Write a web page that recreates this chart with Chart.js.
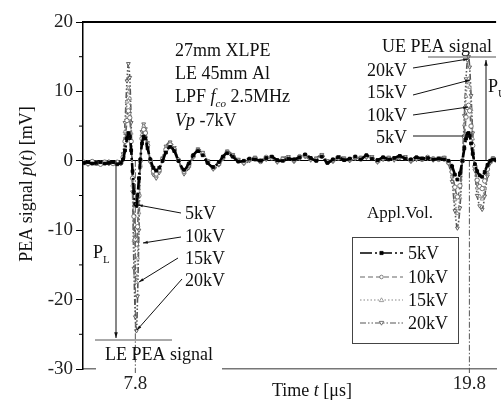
<!DOCTYPE html>
<html>
<head>
<meta charset="utf-8">
<script src="https://cdn.jsdelivr.net/npm/chart.js@4/dist/chart.umd.min.js"></script>
<style>
  html, body { margin: 0; padding: 0; background: #fff; }
  canvas { display: block; }
</style>
</head>
<body>
<canvas id="pea" width="501" height="405"></canvas>
<script>
// ==============================
// DATA
// ==============================
const times = [
  5.95, 6.1, 6.25, 6.4, 6.55, 6.7, 6.85, 7.0, 7.15, 7.28,
  7.36, 7.43, 7.5, 7.55, 7.6, 7.65, 7.7, 7.75, 7.8, 7.84,
  7.88, 7.93, 7.98, 8.04, 8.1, 8.16, 8.24, 8.34, 8.45, 8.55,
  8.66, 8.78, 8.9, 9.05, 9.2, 9.35, 9.55, 9.72, 9.88, 10.05,
  10.22, 10.4, 10.6, 10.8, 10.95, 11.1, 11.3, 11.5, 11.7, 11.9,
  12.1, 12.3, 12.5, 12.7, 12.9, 13.1, 13.3, 13.5, 13.7, 13.9,
  14.1, 14.3, 14.5, 14.7, 14.9, 15.1, 15.3, 15.5, 15.7, 15.9,
  16.1, 16.3, 16.5, 16.7, 16.9, 17.1, 17.3, 17.5, 17.7, 17.9,
  18.1, 18.3, 18.5, 18.7, 18.9, 19.05, 19.18, 19.28, 19.37, 19.46,
  19.55, 19.62, 19.68, 19.73, 19.77, 19.81, 19.86, 19.92, 20.0, 20.08,
  20.17, 20.26, 20.35, 20.45, 20.55, 20.65, 20.76
];

const kv5 = [
  -0.3, -0.2, -0.4, -0.3, -0.2, -0.4, -0.3, -0.2, -0.5, -0.3,
  0.2, 1.5, 3.2, 4.0, 3.5, 1.5, -1.5, -4.5, -6.2, -6.5,
  -5.0, -2.5, 0.2, 2.5, 3.5, 3.2, 1.8, 0.2, -1.0, -1.4,
  -1.0, 0.0, 1.2, 2.0, 1.4, 0.0, -1.3, -0.4, 0.8, 1.4,
  0.8, -0.3, -0.9, -0.2, 0.6, 1.1, 0.6, -0.1, 0.0, 0.3,
  0.2, 0.0, 0.4, 0.6, 0.1, 0.0, 0.3, 0.2, 0.5, 0.9,
  0.4, 0.0, 0.6, -0.3, 0.2, 0.5, 0.1, 0.3, 0.6, 0.2,
  0.8, 0.3, 0.1, 0.5, 0.2, 0.4, 0.7, 0.3, 0.2, 0.5,
  0.3, 0.4, 0.2, 0.3, 0.2, 0.0, -0.8, -2.0, -2.7, -1.8,
  0.0, 1.8, 3.2, 3.9, 4.0, 3.6, 2.5, 1.0, -0.5, -1.5,
  -2.1, -2.3, -1.6, -0.6, 0.0, 0.2, 0.1
];

const kv10 = [
  -0.2, -0.4, -0.1, -0.3, -0.5, -0.2, -0.3, -0.4, -0.2, -0.3,
  0.5, 2.8, 5.8, 7.2, 6.2, 2.8, -2.5, -8.0, -11.3, -12.0,
  -9.5, -5.0, 0.0, 3.2, 4.5, 4.0, 2.2, 0.0, -1.5, -1.9,
  -1.3, 0.2, 1.6, 2.3, 1.6, 0.1, -1.5, -0.6, 0.7, 1.5,
  1.0, -0.2, -1.0, -0.4, 0.5, 1.2, 0.7, 0.0, -0.2, 0.2,
  0.3, -0.1, 0.5, 0.4, 0.0, 0.2, 0.4, 0.1, 0.6, 0.8,
  0.3, 0.1, 0.7, -0.2, 0.1, 0.4, 0.2, 0.2, 0.5, 0.3,
  0.7, 0.4, 0.0, 0.4, 0.3, 0.3, 0.6, 0.4, 0.1, 0.4,
  0.2, 0.5, 0.3, 0.2, 0.3, -0.2, -1.6, -3.8, -5.2, -3.6,
  0.0, 3.5, 6.3, 7.7, 8.0, 7.2, 5.0, 2.2, -0.8, -2.8,
  -3.7, -4.0, -2.9, -1.2, -0.1, 0.3, 0.1
];

const kv15 = [
  -0.4, -0.2, -0.3, -0.5, -0.2, -0.3, -0.1, -0.4, -0.3, -0.2,
  0.8, 4.2, 8.5, 10.5, 9.0, 4.0, -3.5, -11.5, -16.5, -17.5,
  -14.0, -7.5, -0.5, 3.8, 5.0, 4.4, 2.5, 0.0, -1.8, -2.2,
  -1.5, 0.3, 1.9, 2.6, 1.8, 0.1, -1.7, -0.8, 0.6, 1.6,
  1.1, -0.1, -1.1, -0.5, 0.4, 1.3, 0.8, 0.1, -0.3, 0.1,
  0.4, 0.0, 0.3, 0.5, -0.1, 0.3, 0.5, 0.0, 0.4, 0.7,
  0.2, 0.3, 0.8, -0.1, 0.0, 0.5, 0.3, 0.1, 0.4, 0.4,
  0.6, 0.5, -0.1, 0.3, 0.4, 0.2, 0.5, 0.5, 0.0, 0.3,
  0.3, 0.4, 0.2, 0.3, 0.4, -0.3, -2.3, -5.6, -7.6, -5.3,
  0.0, 5.2, 9.3, 11.4, 11.8, 10.6, 7.4, 3.2, -1.1, -3.9,
  -5.1, -5.5, -4.0, -1.7, -0.2, 0.3, 0.2
];

const kv20 = [
  -0.3, -0.5, -0.2, -0.4, -0.3, -0.1, -0.4, -0.3, -0.2, -0.4,
  1.0, 5.5, 11.5, 14.0, 12.0, 5.5, -4.5, -15.5, -22.5, -24.5,
  -19.5, -10.0, -1.0, 4.2, 5.3, 4.6, 2.6, -0.2, -2.0, -2.5,
  -1.7, 0.4, 2.1, 2.7, 1.9, 0.0, -1.9, -1.0, 0.5, 1.7,
  1.2, 0.0, -1.2, -0.6, 0.3, 1.4, 0.9, 0.2, -0.4, 0.0,
  0.5, 0.1, 0.2, 0.6, -0.2, 0.4, 0.6, -0.1, 0.3, 0.6,
  0.1, 0.4, 0.9, 0.0, -0.1, 0.6, 0.4, 0.0, 0.3, 0.5,
  0.5, 0.6, -0.2, 0.2, 0.5, 0.1, 0.4, 0.6, -0.1, 0.2,
  0.4, 0.3, 0.1, 0.4, 0.5, -0.4, -3.0, -7.2, -9.7, -6.8,
  0.0, 6.5, 11.8, 14.5, 15.0, 13.5, 9.4, 4.0, -1.4, -5.0,
  -6.5, -7.0, -5.1, -2.2, -0.3, 0.4, 0.2
];

const seriesLabels = ["5kV", "10kV", "15kV", "20kV"];
const xTickValues  = [7.8, 19.8];
const yMinorTicks  = [15, 5, -5, -15, -25];

// ==============================
// STYLES
// ==============================
const SERIF = "'Liberation Serif', 'DejaVu Serif', serif";

const STYLES = [
  { color: "#000", width: 2.6, dash: [12, 3, 2, 3],           point: "rect",     rot: 0,   fill: "#000" },
  { color: "#666", width: 1.6, dash: [5, 3],                  point: "circle",   rot: 0,   fill: "#fff" },
  { color: "#888", width: 1.6, dash: [1.5, 2],                point: "triangle", rot: 0,   fill: "#fff" },
  { color: "#555", width: 1.6, dash: [6, 2, 1.5, 2, 1.5, 2],  point: "triangle", rot: 180, fill: "#fff" }
];

const allSeries = [kv5, kv10, kv15, kv20];

const datasets = allSeries.map((vals, i) => ({
  label: seriesLabels[i],
  data: times.map((t, k) => ({ x: t, y: vals[k] })),
  borderColor: STYLES[i].color,
  borderWidth: STYLES[i].width,
  borderDash: STYLES[i].dash,
  pointStyle: STYLES[i].point,
  pointRotation: STYLES[i].rot,
  pointRadius: i === 0 ? 2 : 2.2,
  pointBorderWidth: 0.9,
  pointBorderColor: STYLES[i].color,
  pointBackgroundColor: STYLES[i].fill,
  tension: 0.3,
  fill: false
}));

// ==============================
// DRAW HELPERS
// ==============================
function line(ctx, x1, y1, x2, y2, color, w, dash) {
  ctx.save();
  ctx.strokeStyle = color;
  ctx.lineWidth = w;
  ctx.setLineDash(dash || []);
  ctx.beginPath();
  ctx.moveTo(x1, y1);
  ctx.lineTo(x2, y2);
  ctx.stroke();
  ctx.restore();
}

function arrow(ctx, x1, y1, x2, y2, head) {
  head = head || 6;
  line(ctx, x1, y1, x2, y2, "#111", 1);
  const a = Math.atan2(y2 - y1, x2 - x1);
  ctx.save();
  ctx.fillStyle = "#111";
  ctx.beginPath();
  ctx.moveTo(x2, y2);
  ctx.lineTo(x2 - head * Math.cos(a - 0.3), y2 - head * Math.sin(a - 0.3));
  ctx.lineTo(x2 - head * Math.cos(a + 0.3), y2 - head * Math.sin(a + 0.3));
  ctx.closePath();
  ctx.fill();
  ctx.restore();
}

// runs: [text, italic, sub]
function runs(ctx, x, y, parts, size, align) {
  ctx.save();
  ctx.fillStyle = "#111";
  ctx.textBaseline = "alphabetic";
  ctx.textAlign = "left";
  const font = p => (p[1] ? "italic " : "") + (p[2] ? Math.round(size * 0.62) : size) + "px " + SERIF;
  let total = 0;
  parts.forEach(p => { ctx.font = font(p); total += ctx.measureText(p[0]).width; });
  let cx = align === "center" ? x - total / 2 : align === "right" ? x - total : x;
  parts.forEach(p => {
    ctx.font = font(p);
    ctx.fillText(p[0], cx, p[2] ? y + size * 0.25 : y);
    cx += ctx.measureText(p[0]).width;
  });
  ctx.restore();
}

function marker(ctx, style, x, y) {
  ctx.save();
  ctx.strokeStyle = style.color;
  ctx.fillStyle = style.fill;
  ctx.lineWidth = 0.8;
  ctx.beginPath();
  if (style.point === "rect") {
    ctx.rect(x - 1.6, y - 1.6, 3.2, 3.2);
  } else if (style.point === "circle") {
    ctx.arc(x, y, 1.8, 0, Math.PI * 2);
  } else {
    const s = style.rot ? -1 : 1;
    ctx.moveTo(x, y - 2.2 * s);
    ctx.lineTo(x + 2.2, y + 1.6 * s);
    ctx.lineTo(x - 2.2, y + 1.6 * s);
    ctx.closePath();
  }
  ctx.fill();
  ctx.stroke();
  ctx.restore();
}

// ==============================
// ANNOTATION PLUGIN
// ==============================
const annotations = {
  id: "annotations",
  afterDraw(chart) {
    const { ctx, chartArea: a, scales } = chart;
    const xs = scales.x, ys = scales.y;
    const y0 = ys.getPixelForValue(0);

    // frame: thick top line, gap in bottom axis under the LE label
    line(ctx, a.left, a.top, a.right, a.top, "#000", 2.2);
    ctx.fillStyle = "#fff";
    ctx.fillRect(96, a.bottom - 2, 126, 4);

    // minor y ticks
    yMinorTicks.forEach(v => {
      const py = ys.getPixelForValue(v);
      line(ctx, a.left - 4, py, a.left, py, "#000", 1);
    });

    // dash-dot drop lines at the peak times
    xTickValues.forEach(v => {
      const px = xs.getPixelForValue(v);
      line(ctx, px, y0, px, a.bottom + 4, "#555", 1, [6, 2, 1.5, 2]);
    });

    // axis titles
    ctx.save();
    ctx.translate(26, 184);
    ctx.rotate(-Math.PI / 2);
    runs(ctx, 0, 6, [["PEA signal ", false], ["p", true], ["(", false], ["t", true], [") [mV]", false]], 18, "center");
    ctx.restore();
    runs(ctx, 312, 396, [["Time ", false], ["t", true], [" [\u03bcs]", false]], 18, "center");

    // condition text
    runs(ctx, 175, 56, [["27mm XLPE", false]], 18);
    runs(ctx, 175, 79, [["LE 45mm Al", false]], 18);
    runs(ctx, 175, 102, [["LPF ", false], ["f", true], ["co", true, true], [" 2.5MHz", false]], 18);
    runs(ctx, 175, 126, [["Vp", true], [" -7kV", false]], 18);

    // LE signal annotation
    runs(ctx, 105, 360, [["LE PEA signal", false]], 18);
    line(ctx, 95, 340, 172, 340, "#555", 1);
    arrow(ctx, 116, y0, 116, 338);
    runs(ctx, 93, 258, [["P", false], ["L", false, true]], 18);

    const leLabels = [
      { t: "5kV",  ty: 219, x1: 181, y1: 213, x2: 138, y2: 205 },
      { t: "10kV", ty: 242, x1: 181, y1: 237, x2: 143, y2: 243 },
      { t: "15kV", ty: 264, x1: 178, y1: 258, x2: 139, y2: 282 },
      { t: "20kV", ty: 286, x1: 182, y1: 279, x2: 137, y2: 330 }
    ];
    leLabels.forEach(l => {
      arrow(ctx, l.x1, l.y1, l.x2, l.y2, 5);
      runs(ctx, 185, l.ty, [[l.t, false]], 18);
    });

    // UE signal annotation
    runs(ctx, 382, 52, [["UE PEA signal", false]], 18);
    line(ctx, 428, 57, 496, 57, "#555", 1);
    arrow(ctx, 486, y0, 486, 60);
    runs(ctx, 488, 92, [["P", false], ["U", false, true]], 18);

    const ueLabels = [
      { t: "20kV", ty: 76,  x1: 413, y1: 68,  x2: 468, y2: 59 },
      { t: "15kV", ty: 98,  x1: 413, y1: 95,  x2: 470, y2: 80 },
      { t: "10kV", ty: 121, x1: 413, y1: 115, x2: 468, y2: 107 },
      { t: "5kV",  ty: 143, x1: 413, y1: 136, x2: 470, y2: 136 }
    ];
    ueLabels.forEach(l => {
      arrow(ctx, l.x1, l.y1, l.x2, l.y2, 5);
      runs(ctx, 407, l.ty, [[l.t, false]], 18, "right");
    });

    // legend
    runs(ctx, 400, 218, [["Appl.Vol.", false]], 17, "center");
    ctx.save();
    ctx.fillStyle = "#fff";
    ctx.fillRect(352, 237, 106, 106);
    ctx.strokeStyle = "#444";
    ctx.lineWidth = 1;
    ctx.strokeRect(352.5, 237.5, 106, 106);
    ctx.restore();
    const rowY = [253, 277, 300, 323];
    seriesLabels.forEach((lab, i) => {
      const st = STYLES[i];
      line(ctx, 360, rowY[i], 403, rowY[i], st.color, i === 0 ? 1.5 : 1.2, st.dash);
      marker(ctx, st, 381.5, rowY[i]);
      runs(ctx, 408, rowY[i] + 6, [[lab, false]], 18);
    });
  }
};

// ==============================
// CHART
// ==============================
new Chart(document.getElementById("pea"), {
  type: "line",
  data: { datasets },
  plugins: [annotations],
  options: {
    responsive: false,
    animation: false,
    devicePixelRatio: 1,
    layout: { padding: { top: 22, right: 0, bottom: 0, left: 0 } },
    plugins: {
      legend: { display: false },
      tooltip: { enabled: false }
    },
    scales: {
      x: {
        type: "linear",
        min: 5.92,
        max: 20.76,
        afterFit: s => { s.height = 36; },
        afterBuildTicks: s => { s.ticks = xTickValues.map(v => ({ value: v })); },
        ticks: {
          font: { family: SERIF, size: 19 },
          color: "#222",
          padding: 4,
          maxRotation: 0,
          callback: v => v.toFixed(1)
        },
        grid: { drawOnChartArea: false, drawTicks: false },
        border: { color: "#777", width: 1.5 }
      },
      y: {
        min: -30,
        max: 20,
        afterFit: s => { s.width = 83; },
        ticks: {
          stepSize: 10,
          font: { family: SERIF, size: 19 },
          color: "#222",
          padding: 3
        },
        grid: {
          color: c => (c.tick && c.tick.value === 0 ? "#000" : "rgba(0,0,0,0)"),
          tickColor: "#000",
          tickLength: 7,
          lineWidth: 1
        },
        border: { color: "#000", width: 1.5 }
      }
    }
  }
});
</script>
</body>
</html>
